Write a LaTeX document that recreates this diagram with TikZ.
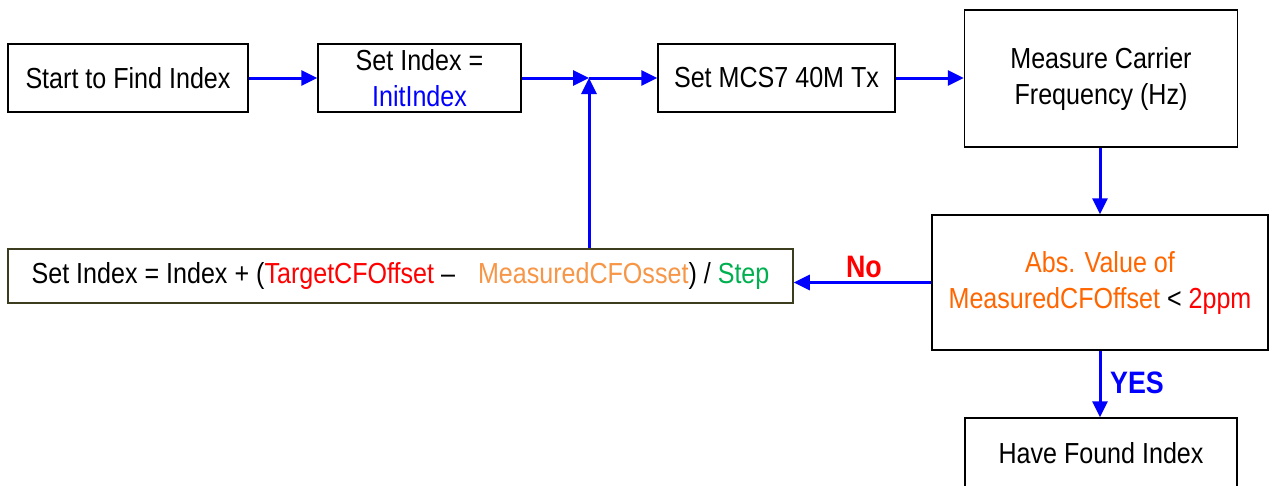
\documentclass[tikz,border=0pt]{standalone}
\usepackage{fontspec}
\setmainfont{Liberation Sans}[FakeStretch=0.865]
\usetikzlibrary{arrows.meta}

\definecolor{lineblue}{RGB}{0,0,255}
\definecolor{tred}{RGB}{255,0,0}
\definecolor{tgreen}{RGB}{0,176,80}
\definecolor{torange}{RGB}{255,102,0}
\definecolor{lorange}{RGB}{247,150,70}
\definecolor{olive}{RGB}{60,60,30}

\tikzset{
  box/.style={draw=black, line width=1.5pt, fill=white, inner sep=0pt,
    align=center, font=\fontsize{29}{36}\selectfont},
  flow/.style={draw=lineblue, line width=3pt,
    -{Triangle[length=16pt,width=15pt]}},
  lbl/.style={font=\fontsize{31}{34}\selectfont\bfseries, inner sep=0pt}
}

\begin{document}
\begin{tikzpicture}[x=1pt,y=-1pt]
  \useasboundingbox (0,0) rectangle (1269,485);

  % process boxes
  \node[box, minimum width=240, minimum height=68] (start) at (128,78)
    {Start to Find Index};
  \node[box, minimum width=203, minimum height=68] (init) at (419.5,78)
    {Set Index =\\\textcolor{lineblue}{InitIndex}};
  \node[box, minimum width=237, minimum height=68] (tx) at (776.5,78)
    {Set MCS7 40M Tx};
  \node[box, minimum width=273, minimum height=137] (meas) at (1101,78.5)
    {Measure Carrier\\Frequency (Hz)};
  \node[box, minimum width=336, minimum height=135] (check) at (1100,282.5)
    {\textcolor{torange}{Abs. Value of}\\
     \textcolor{torange}{MeasuredCFOffset} < \textcolor{tred}{2ppm}};
  \node[box, draw=olive, minimum width=785, minimum height=54] (update) at (400.5,276)
    {Set Index = Index + (\textcolor{tred}{TargetCFOffset} –\hspace{16pt}
     \textcolor{lorange}{MeasuredCFOsset}) / \textcolor{tgreen}{Step}};
  \node[box, minimum width=272, minimum height=70] (found) at (1101,453)
    {Have Found Index};

  % merge point in front of the Tx step
  \coordinate (join) at (589,78);

  % connectors
  \draw[flow] (start.east) -- (init.west);
  \draw[flow] (init.east) -- (join);
  \draw[flow] (join) -- (tx.west);
  \draw[flow] (tx.east) -- (tx.east -| meas.west);
  \draw[flow] (meas.south -| check.north) -- (check.north);
  \draw[flow] (check.west) -- (check.west -| update.east);
  \draw[flow] (update.north -| join) -- (join);
  \draw[flow] (check.south) -- (check.south |- found.north);

  % branch labels
  \node[lbl, text=tred] (no) at (864,267) {No};
  \node[lbl, text=lineblue] (yes) at (1137,383) {YES};
\end{tikzpicture}
\end{document}
